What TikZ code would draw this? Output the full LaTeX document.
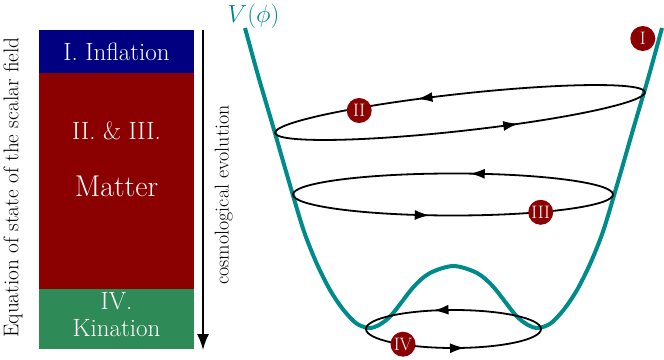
\documentclass[tikz,border=0pt]{standalone}
\usetikzlibrary{positioning, arrows.meta, decorations.markings}

\definecolor{navyblue}{RGB}{0,0,128}
\definecolor{darkred}{RGB}{139,0,0}
\definecolor{seagreen}{RGB}{46,139,87}
\definecolor{darkcyan}{RGB}{0,139,139}

\begin{document}
\begin{tikzpicture}[
  x=1pt,
  y=1pt,
  phase/.style={
    rectangle,
    minimum width=155pt,
    inner sep=0pt,
    outer sep=0pt,
    text=white,
    font=\fontsize{25}{26.7}\selectfont
  },
  phasetext/.style={
    inner sep=0pt,
    text=white,
    align=center,
    font=\fontsize{25}{26.7}\selectfont
  },
  stage/.style={
    circle,
    fill=darkred,
    minimum size=25pt,
    inner sep=0pt,
    text=white,
    font=\fontsize{18}{20}\selectfont
  },
  orbit/.style={
    draw,
    line width=1.8pt,
    postaction={decorate}
  },
  potential/.style={
    draw=darkcyan,
    line width=4pt
  },
  >={Latex[length=15pt, width=10pt]},
  node distance=0pt
]

\useasboundingbox (0,0) rectangle (664,359);

% Inflation
\node[phase, fill=navyblue, minimum height=43pt] (Inflation) at (116.5,307.5) {I. Inflation};

% Matter
\node[phase, fill=darkred, minimum height=216pt, below=of Inflation] (Matter) {};
\node[phasetext, anchor=base] (MatterStages) at ([yshift=-67pt]Matter.north) {II. \& III.};
\node[phasetext, anchor=base, font=\fontsize{30}{36}\selectfont] (MatterName) at ([yshift=-124pt]Matter.north) {Matter};

% Kination
\node[phase, fill=seagreen, minimum height=60pt, below=of Matter] (Kination) {};
\node[phasetext] (KinationName) at ([yshift=4.3pt]Kination.center) {IV.\\Kination};

% Equation of state
\node[rotate=90, anchor=base, font=\fontsize{21.3}{25}\selectfont] (EoSLabel) at (18.3,171.5) {Equation of state of the scalar field};

% Cosmological evolution
\coordinate (EvoStart) at (203,329);
\coordinate (EvoEnd) at (203,9);
\draw[-{Latex[length=16pt, width=12pt]}, line width=1.7pt] (EvoStart) -- (EvoEnd);
\node[rotate=90, anchor=base, font=\fontsize{20}{24}\selectfont] (EvoLabel) at (228.7,164) {cosmological evolution};

% Potential
\draw[potential] plot[smooth] coordinates {
  (245,331) (258.5,282) (273.5,231) (288.5,179) (303.5,129) (316.5,96)
  (330,69) (343.5,49) (356.5,35.5) (369,31) (379,34) (391.5,44)
  (413.5,72) (430,86) (453.5,93) (477,86) (493.5,72) (515.5,44)
  (528,34) (538,31) (550.5,35.5) (563.5,49) (577,69) (590.5,96)
  (603.5,129) (618.5,179) (633.5,231) (648.5,282) (662,331)
};
\node[text=darkcyan, font=\fontsize{23}{27}\selectfont] (PotLabel) at (253.5,343) {$V(\phi)$};

% Orbits
\coordinate (OrbitII) at (460,246.5);
\coordinate (OrbitIII) at (453,164.5);
\coordinate (OrbitIV) at (453.5,30);
\draw[orbit, rotate around={6.3:(OrbitII)},
  decoration={markings, mark=at position 0.304 with {\arrow{>}}, mark=at position 0.825 with {\arrow{>}}}]
  (OrbitII) ellipse [x radius=186pt, y radius=18.5pt];
\draw[orbit,
  decoration={markings, mark=at position 0.2245 with {\arrow{>}}, mark=at position 0.7146 with {\arrow{>}}}]
  (OrbitIII) ellipse [x radius=160pt, y radius=21pt];
\draw[orbit,
  decoration={markings, mark=at position 0.304 with {\arrow{>}}, mark=at position 0.781 with {\arrow{>}}}]
  (OrbitIV) ellipse [x radius=87.5pt, y radius=19pt];

% Stages
\node[stage] (StageI) at (642.8,320.5) {I};
\node[stage] (StageII) at (359.2,248.5) {II};
\node[stage] (StageIII) at (540.7,146.7) {III};
\node[stage] (StageIV) at (403,14.8) {IV};

\end{tikzpicture}
\end{document}
